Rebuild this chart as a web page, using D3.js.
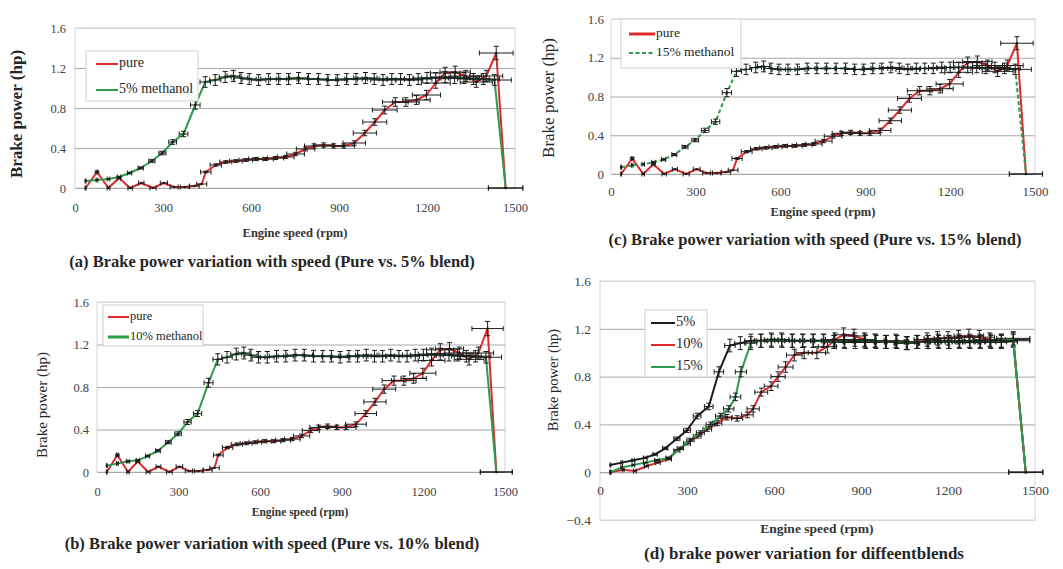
<!DOCTYPE html>
<html>
<head>
<meta charset="utf-8">
<script src="https://cdn.jsdelivr.net/npm/d3@7"></script>
<style>
  body { margin: 0; background: #fff; }
  svg { display: block; }
  text { font-family: "Liberation Serif", "Times New Roman", serif; fill: #262626; }
</style>
</head>
<body>
<svg id="fig" width="1063" height="569" font-family='"Liberation Serif", "Times New Roman", serif'></svg>
<script>
// Axis ticks
const speedTicks = [0, 300, 600, 900, 1200, 1500];
const powerTicks = [0, 0.4, 0.8, 1.2, 1.6];
const powerTicksD = [-0.4, 0, 0.4, 0.8, 1.2, 1.6];

// Pure fuel (same run in panels a, b, c): engine speed (rpm) and brake power (hp)
const pureRpm = [36, 75, 114, 150, 188, 226, 266, 303, 338, 374, 407, 432, 446, 480, 514, 548, 582, 616, 650, 684, 718, 752, 786, 815, 848, 882, 916, 952, 988, 1022, 1056, 1092, 1128, 1164, 1198, 1230, 1262, 1296, 1332, 1368, 1402, 1436, 1468];
const purePower = [0.00, 0.16, 0.00, 0.10, 0.00, 0.05, 0.00, 0.05, 0.01, 0.01, 0.02, 0.04, 0.16, 0.23, 0.26, 0.27, 0.28, 0.29, 0.29, 0.30, 0.31, 0.34, 0.39, 0.42, 0.43, 0.42, 0.42, 0.45, 0.55, 0.66, 0.78, 0.86, 0.86, 0.88, 0.93, 1.05, 1.15, 1.16, 1.12, 1.06, 1.12, 1.35, 0.00];

// 5 % methanol blend (panel a)
const m5Rpm = [36, 75, 114, 150, 186, 224, 262, 298, 333, 370, 410, 444, 478, 512, 540, 566, 594, 626, 660, 694, 728, 762, 796, 830, 862, 894, 926, 958, 990, 1020, 1050, 1080, 1110, 1140, 1170, 1200, 1230, 1262, 1294, 1326, 1358, 1392, 1430, 1468];
const m5Power = [0.07, 0.08, 0.09, 0.11, 0.15, 0.20, 0.27, 0.35, 0.46, 0.54, 0.83, 1.06, 1.08, 1.11, 1.12, 1.10, 1.09, 1.08, 1.09, 1.09, 1.09, 1.10, 1.09, 1.09, 1.08, 1.08, 1.09, 1.09, 1.10, 1.09, 1.08, 1.09, 1.09, 1.08, 1.09, 1.10, 1.10, 1.11, 1.10, 1.10, 1.09, 1.09, 1.08, 0.00];

// 10 % methanol blend (panel b)
const m10Rpm = [36, 75, 114, 150, 186, 224, 262, 298, 333, 370, 410, 444, 478, 512, 540, 566, 594, 626, 660, 694, 728, 762, 796, 830, 862, 894, 926, 958, 990, 1020, 1050, 1080, 1110, 1140, 1170, 1200, 1230, 1262, 1294, 1326, 1358, 1392, 1430, 1468];
const m10Power = [0.06, 0.08, 0.10, 0.11, 0.15, 0.20, 0.28, 0.36, 0.47, 0.55, 0.84, 1.06, 1.08, 1.11, 1.12, 1.10, 1.08, 1.08, 1.09, 1.09, 1.10, 1.10, 1.09, 1.09, 1.09, 1.08, 1.09, 1.09, 1.10, 1.09, 1.09, 1.10, 1.09, 1.09, 1.10, 1.10, 1.11, 1.11, 1.10, 1.10, 1.09, 1.09, 1.08, 0.00];

// 15 % methanol blend (panel c)
const m15Rpm = [36, 75, 114, 150, 186, 224, 262, 298, 333, 370, 410, 444, 478, 512, 540, 566, 594, 626, 660, 694, 728, 762, 796, 830, 862, 894, 926, 958, 990, 1020, 1050, 1080, 1110, 1140, 1170, 1200, 1230, 1262, 1294, 1326, 1358, 1392, 1430, 1468];
const m15Power = [0.07, 0.09, 0.10, 0.12, 0.15, 0.20, 0.28, 0.35, 0.45, 0.54, 0.84, 1.06, 1.08, 1.10, 1.11, 1.09, 1.08, 1.08, 1.08, 1.09, 1.09, 1.09, 1.09, 1.09, 1.08, 1.08, 1.09, 1.09, 1.10, 1.09, 1.08, 1.09, 1.09, 1.09, 1.10, 1.10, 1.10, 1.10, 1.10, 1.09, 1.10, 1.09, 1.08, 0.00];

// Panel d: all three blends together
const blend5Rpm = [36, 75, 115, 156, 190, 225, 265, 300, 335, 375, 410, 448, 484, 520, 556, 592, 628, 664, 700, 736, 772, 808, 844, 880, 916, 952, 988, 1024, 1060, 1096, 1132, 1168, 1204, 1240, 1276, 1312, 1348, 1384, 1425, 1468];
const blend5Power = [0.06, 0.08, 0.10, 0.12, 0.15, 0.20, 0.28, 0.35, 0.47, 0.55, 0.84, 1.06, 1.08, 1.10, 1.10, 1.10, 1.10, 1.10, 1.10, 1.10, 1.10, 1.09, 1.09, 1.09, 1.09, 1.09, 1.09, 1.09, 1.08, 1.09, 1.09, 1.09, 1.09, 1.09, 1.09, 1.09, 1.09, 1.09, 1.10, 0.00];
const blend10Rpm = [36, 80, 120, 160, 200, 237, 265, 300, 335, 370, 404, 438, 473, 508, 528, 556, 590, 614, 640, 670, 704, 748, 784, 810, 840, 876, 912, 948, 984, 1020, 1056, 1092, 1128, 1164, 1200, 1236, 1272, 1308, 1344, 1384, 1425, 1468];
const blend10Power = [0.00, 0.02, 0.01, 0.05, 0.08, 0.11, 0.18, 0.24, 0.30, 0.36, 0.41, 0.46, 0.45, 0.48, 0.53, 0.67, 0.72, 0.80, 0.88, 0.98, 1.00, 1.00, 1.05, 1.11, 1.15, 1.14, 1.11, 1.10, 1.09, 1.10, 1.08, 1.09, 1.11, 1.12, 1.12, 1.13, 1.14, 1.13, 1.11, 1.10, 1.11, 0.00];
const blend15Rpm = [36, 75, 115, 156, 196, 237, 277, 312, 346, 381, 415, 444, 467, 486, 520, 554, 590, 626, 662, 698, 734, 770, 806, 842, 878, 914, 950, 986, 1022, 1058, 1094, 1130, 1166, 1202, 1238, 1274, 1310, 1346, 1384, 1425, 1468];
const blend15Power = [0.00, 0.04, 0.06, 0.08, 0.10, 0.12, 0.20, 0.27, 0.33, 0.40, 0.47, 0.53, 0.63, 0.84, 1.08, 1.10, 1.11, 1.11, 1.10, 1.10, 1.10, 1.10, 1.09, 1.10, 1.11, 1.10, 1.10, 1.09, 1.09, 1.08, 1.09, 1.09, 1.10, 1.09, 1.10, 1.10, 1.10, 1.10, 1.10, 1.12, 0.00];

// Percentage error bars on speed and on power
const SPEED_ERR = 0.04;
const POWER_ERR = 0.05;

const RED = "#df2a2c", GREEN = "#2c9c4c", BLACK = "#1c1c1c";
const SERIF = '"Liberation Serif", "Times New Roman", serif';

const svg = d3.select("#fig");
const zip = (xs, ys) => xs.map((v, i) => ({ rpm: v, hp: ys[i] }));
const fmt = d => d === 0 ? "0" : d3.format(".1f")(d);

function drawPanel(p) {
  const g = svg.append("g").attr("font-family", SERIF);
  const x = d3.scaleLinear().domain([0, 1500]).range([p.x0, p.x1]);
  const y = d3.scaleLinear().domain([p.yTicks[0], 1.6]).range([p.yBottom, p.yTop]);
  const w = p.x1 - p.x0;

  // plot frame
  g.append("rect").attr("x", p.x0).attr("y", p.yTop).attr("width", w)
    .attr("height", p.yBottom - p.yTop).attr("fill", "none").attr("stroke", "#d6d6d6");

  // horizontal gridlines and value labels
  const ya = g.append("g").attr("transform", `translate(${p.x0},0)`)
    .call(d3.axisLeft(y).tickValues(p.yTicks).tickSize(-w).tickPadding(p.yPad).tickFormat(fmt))
    .attr("font-family", SERIF);
  ya.select(".domain").remove();
  ya.selectAll(".tick line").attr("stroke", "#a8a8a8").attr("stroke-width", 1)
    .filter(d => d === 1.6 || d === p.yTicks[0]).attr("stroke", "#d6d6d6");
  ya.selectAll(".tick text").attr("font-size", p.tickFs).style("fill", "#444");

  // speed axis at zero power
  const xa = g.append("g").attr("transform", `translate(0,${y(0)})`)
    .call(d3.axisBottom(x).tickValues(speedTicks).tickSize(0).tickPadding(p.xPad).tickFormat(d3.format("d")))
    .attr("font-family", SERIF);
  xa.select(".domain").attr("stroke", "#a8a8a8");
  xa.selectAll(".tick text").attr("font-size", p.tickFs).style("fill", "#444");

  // axis titles
  g.append("text").attr("transform", `translate(${p.yTitleX},${p.yTitleY}) rotate(-90)`)
    .attr("text-anchor", "middle").attr("dominant-baseline", "middle")
    .attr("font-size", p.yTitleFs).attr("font-weight", p.yTitleW || "normal").text("Brake power (hp)");
  g.append("text").attr("x", p.xTitleX).attr("y", p.xTitleY)
    .attr("text-anchor", "middle").attr("dominant-baseline", "middle")
    .attr("font-size", p.xTitleFs).attr("font-weight", "bold").style("fill", "#333").text("Engine speed (rpm)");

  // series: line then error bars
  const line = d3.line().x(d => x(d.rpm)).y(d => y(d.hp));
  p.series.forEach(s => {
    const pts = zip(s.rpm, s.hp);
    g.append("path").datum(pts).attr("d", line).attr("fill", "none")
      .attr("stroke", s.color).attr("stroke-width", 2)
      .attr("stroke-dasharray", s.dash || null).attr("stroke-linejoin", "round");
    const eb = g.append("g").attr("stroke", BLACK).attr("stroke-width", 1);
    pts.forEach(d => {
      const cx = x(d.rpm), cy = y(d.hp);
      const xl = x(d.rpm * (1 - SPEED_ERR)), xr = x(d.rpm * (1 + SPEED_ERR));
      const yt = y(d.hp * (1 + POWER_ERR)), yb = y(d.hp * (1 - POWER_ERR));
      eb.append("line").attr("x1", xl).attr("x2", xr).attr("y1", cy).attr("y2", cy);
      eb.append("line").attr("x1", xl).attr("x2", xl).attr("y1", cy - 2.5).attr("y2", cy + 2.5);
      eb.append("line").attr("x1", xr).attr("x2", xr).attr("y1", cy - 2.5).attr("y2", cy + 2.5);
      if (Math.abs(yb - yt) > 1) {
        eb.append("line").attr("x1", cx).attr("x2", cx).attr("y1", yt).attr("y2", yb);
        eb.append("line").attr("x1", cx - 2.5).attr("x2", cx + 2.5).attr("y1", yt).attr("y2", yt);
        eb.append("line").attr("x1", cx - 2.5).attr("x2", cx + 2.5).attr("y1", yb).attr("y2", yb);
      }
      eb.append("circle").attr("cx", cx).attr("cy", cy).attr("r", 1.2).attr("fill", BLACK).attr("stroke", "none");
    });
  });

  // legend
  const L = p.legend;
  g.append("rect").attr("x", L.x).attr("y", L.y).attr("width", L.w).attr("height", L.h)
    .attr("fill", "#fff").attr("stroke", "#cfcfcf");
  p.series.forEach((s, i) => {
    const ly = L.y + L.first + i * L.step;
    g.append("line").attr("x1", L.x + L.lx).attr("x2", L.x + L.lx + L.len).attr("y1", ly).attr("y2", ly)
      .attr("stroke", s.color).attr("stroke-width", s.legendW || 2).attr("stroke-dasharray", s.dash || null);
    g.append("text").attr("x", L.x + L.lx + L.len + 1).attr("y", ly).attr("dominant-baseline", "middle")
      .attr("font-family", SERIF).attr("font-size", L.fs).text(s.name);
  });

  // caption
  g.append("text").attr("x", p.capX).attr("y", p.capY).attr("text-anchor", "middle")
    .attr("dominant-baseline", "middle").attr("font-size", p.capFs).attr("font-weight", "bold")
    .attr("fill", "#1a1a1a").text(p.caption);
}

drawPanel({
  x0: 75, x1: 515, yTop: 28, yBottom: 188, yTicks: powerTicks, yPad: 9, xPad: 15, tickFs: 12.5,
  yTitleX: 18, yTitleY: 114, yTitleFs: 17, yTitleW: "bold",
  xTitleX: 295, xTitleY: 234, xTitleFs: 12.5,
  series: [
    { name: "pure", rpm: pureRpm, hp: purePower, color: RED },
    { name: "5% methanol", rpm: m5Rpm, hp: m5Power, color: GREEN }
  ],
  legend: { x: 86, y: 51, w: 112, h: 50, first: 13, step: 26, lx: 10, len: 22, fs: 14 },
  caption: "(a) Brake power variation with speed (Pure vs. 5% blend)", capX: 272, capY: 263, capFs: 16.5
});

drawPanel({
  x0: 611, x1: 1035, yTop: 19, yBottom: 174, yTicks: powerTicks, yPad: 7, xPad: 13, tickFs: 13,
  yTitleX: 550, yTitleY: 98, yTitleFs: 17,
  xTitleX: 823, xTitleY: 213, xTitleFs: 12.5,
  series: [
    { name: "pure", rpm: pureRpm, hp: purePower, color: RED, legendW: 3 },
    { name: "15% methanol", rpm: m15Rpm, hp: m15Power, color: GREEN, dash: "4,2.5" }
  ],
  legend: { x: 621, y: 19, w: 120, h: 49, first: 15, step: 19, lx: 8, len: 26, fs: 13.5 },
  caption: "(c) Brake power variation with speed (Pure vs. 15% blend)", capX: 815, capY: 241, capFs: 16.5
});

drawPanel({
  x0: 97, x1: 505, yTop: 302, yBottom: 472, yTicks: powerTicks, yPad: 8, xPad: 15, tickFs: 12.5,
  yTitleX: 44, yTitleY: 405, yTitleFs: 15,
  xTitleX: 300, xTitleY: 513, xTitleFs: 11.5,
  series: [
    { name: "pure", rpm: pureRpm, hp: purePower, color: RED },
    { name: "10% methanol", rpm: m10Rpm, hp: m10Power, color: GREEN, legendW: 3 }
  ],
  legend: { x: 103, y: 305, w: 100, h: 41, first: 12, step: 20, lx: 5, len: 21, fs: 12.5 },
  caption: "(b) Brake power variation with speed (Pure vs. 10% blend)", capX: 272, capY: 545, capFs: 16.5
});

drawPanel({
  x0: 600, x1: 1035, yTop: 281, yBottom: 520, yTicks: powerTicksD, yPad: 9, xPad: 13, tickFs: 13.5,
  yTitleX: 555, yTitleY: 380, yTitleFs: 14.5,
  xTitleX: 817, xTitleY: 530, xTitleFs: 13.5,
  series: [
    { name: "5%", rpm: blend5Rpm, hp: blend5Power, color: BLACK },
    { name: "10%", rpm: blend10Rpm, hp: blend10Power, color: RED },
    { name: "15%", rpm: blend15Rpm, hp: blend15Power, color: GREEN }
  ],
  legend: { x: 645, y: 310, w: 62, h: 67, first: 13, step: 22, lx: 6, len: 24, fs: 14.5 },
  caption: "(d) brake power variation for diffeentblends", capX: 804, capY: 555, capFs: 17
});
</script>
</body>
</html>
